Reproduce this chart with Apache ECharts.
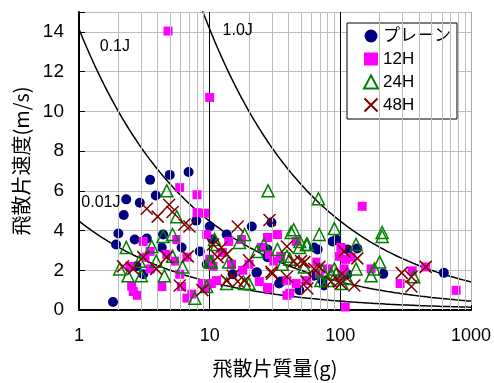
<!DOCTYPE html>
<html>
<head>
<meta charset="utf-8">
<script src="https://cdn.jsdelivr.net/npm/echarts@6/dist/echarts.min.js"></script>
<style>
  html, body { margin: 0; padding: 0; background: #fff; }
  #chart { width: 494px; height: 383px; }
</style>
</head>
<body>
<div id="chart"></div>
<script>
// Fragment mass (g) vs. fragment velocity (m/s), by exposure condition
const seriesNames = ['プレーン', '12H', '24H', '48H'];

const plainPoints = [
  [3.5, 6.55], [4.95, 6.8], [6.9, 6.95], [2.3, 5.57], [3.87, 5.76], [2.92, 5.4],
  [2.2, 4.78], [2.0, 3.85], [1.92, 3.3], [1.82, 0.4], [2.67, 3.55], [3.3, 3.6],
  [4.4, 3.8], [10, 4.2], [13.5, 3.8], [7.9, 4.5], [21, 4.2], [29.7, 4.4],
  [93, 3.55], [135, 3.1], [213, 1.82], [620, 1.87], [35, 1.43], [48.6, 0.99],
  [22.8, 1.87], [27.7, 3.05], [67, 3.05], [113, 1.8], [73, 1.48], [10.5, 3.55],
  [6.1, 3.15], [8.4, 2.95], [9.5, 2.3], [23, 1.9], [15, 1.8], [3.1, 1.8],
  [2.77, 2.2], [4.3, 3.15], [63, 3.15], [87, 3.45], [113, 3.05], [34, 1.33],
  [75, 1.23], [63, 1.72], [27.7, 2.66]
];

const h12Points = [
  [4.8, 14.04], [10, 10.7], [5.9, 6.16], [8.0, 5.8], [8, 4.9], [9.2, 4.87],
  [9.5, 3.8], [3.1, 3.45], [2.53, 1.2], [2.8, 0.74], [2.6, 0.93], [4.3, 1.18],
  [6.7, 0.6], [7.3, 0.8], [5.9, 1.8], [2.45, 2.2], [3.5, 2.95], [4.7, 2.8],
  [10.6, 2.2], [8.7, 1.33], [10.3, 1.33], [14, 3.45], [147, 5.22], [27.7, 3.65],
  [33, 3.8], [17.5, 3.55], [28.7, 2.8], [35, 2.7], [98, 2.7], [110, 2.55],
  [27.7, 1.13], [39, 0.74], [55, 1.48], [109, 0.15], [287, 1.33], [355, 1.97],
  [450, 2.17], [770, 0.99], [172, 2.07], [69, 1.82], [80, 2.07], [20, 2.3],
  [46, 1.33], [103, 1.67], [6.7, 2.66], [10, 2.56], [12.5, 2.9], [14.7, 2.3],
  [17.9, 2.0], [25, 3.15], [9.2, 1.08], [11.3, 1.48], [6.1, 1.18], [24, 1.43],
  [46, 3.45], [101, 3.15], [31, 2.46], [39, 1.48], [28.7, 1.08], [41, 0.84],
  [66, 2.41], [107, 2.07], [121, 2.66], [3.5, 2.07], [3.2, 2.66], [5.4, 2.46],
  [5.6, 3.55]
];

const h24Points = [
  [4.7, 6.0], [28, 6.0], [68, 5.6], [209, 3.9], [209, 3.7], [90, 4.1],
  [132, 3.3], [42, 3.9], [69, 3.8], [55, 3.3], [49, 3.45], [18.5, 3.8],
  [26, 3.3], [200, 2.41], [182, 2.07], [172, 1.72], [90, 2.07], [85, 1.82],
  [103, 1.33], [71, 1.48], [365, 1.67], [18.5, 1.33], [53, 2.17], [41, 2.56],
  [36, 2.3], [5.6, 4.7], [5.2, 3.8], [4.4, 3.7], [2.3, 3.15], [3.6, 3.2],
  [5.2, 2.7], [3.9, 2.46], [2.9, 2.46], [2.05, 2.07], [2.37, 1.72], [3.0, 1.72],
  [4.5, 1.72], [6.2, 2.17], [7.7, 0.59], [9.5, 1.18], [10.3, 2.41], [11.3, 3.3],
  [16.9, 3.4], [14, 2.41], [13.5, 1.33], [10.9, 3.55], [10, 2.46], [23, 2.95],
  [20, 1.33], [44, 4.04], [56, 3.3], [39, 2.7], [73, 1.97], [93, 1.82],
  [80, 1.48], [113, 1.58], [33, 3.05], [48.6, 3.15], [132, 2.07]
];

const h48Points = [
  [3.3, 5.1], [4.0, 4.7], [4.9, 5.3], [5.2, 4.93], [6.4, 4.3], [7, 4.2],
  [2.17, 2.2], [2.6, 2.07], [3.1, 2.66], [3.9, 2.07], [4.7, 2.66], [5.9, 1.23],
  [6.8, 2.7], [8.8, 1.0], [10.6, 3.3], [16.4, 4.2], [13.5, 2.8], [15, 1.72],
  [18.5, 1.48], [28.7, 4.53], [39, 3.2], [20, 2.5], [30, 1.82], [55, 1.43],
  [85, 1.43], [98, 1.43], [135, 2.6], [128, 1.23], [295, 1.87], [350, 1.18],
  [350, 1.67], [450, 2.17], [53, 2.41], [44, 2.46], [69, 2.17], [103, 1.82],
  [39, 1.67], [12.3, 3.15], [13.5, 1.48], [16.4, 1.43], [11.5, 2.66], [50, 2.46],
  [29.7, 1.92], [63, 2.07], [101, 1.33], [56, 1.08], [107, 2.95]
];

// Constant kinetic-energy curves: v = sqrt(2E / m), m in kg
const energyLevels = [0.01, 0.1, 1.0];
const energyLabels = ['0.01J', '0.1J', '1.0J'];
const energyLabelAt = [[1.47, 5.42], [1.88, 13.25], [16.4, 14.04]];

const xTickMinor = [2, 3, 4, 5, 6, 7, 8, 9, 20, 30, 40, 50, 60, 70, 80, 90,
                    200, 300, 400, 500, 600, 700, 800, 900];

const numFont = "'Liberation Sans', 'Noto Sans CJK JP', sans-serif";
const jpFont = "'Noto Sans CJK JP', 'Liberation Sans', sans-serif";

function energyCurve(E) {
  const pts = [];
  const steps = 300;
  for (let i = 0; i <= steps; i++) {
    const m = Math.pow(10, 3 * i / steps);
    pts.push([m, Math.sqrt(2 * E / (m / 1000))]);
  }
  return pts;
}

const chart = echarts.init(document.getElementById('chart'), null, { renderer: 'canvas' });

const series = [];

// minor vertical grid lines of the log axis
series.push({
  type: 'line',
  data: [],
  silent: true,
  z: 1,
  markLine: {
    silent: true,
    symbol: 'none',
    label: { show: false },
    lineStyle: { color: '#bdbdbd', type: 'solid', width: 1 },
    data: xTickMinor.map(v => ({ xAxis: v }))
  }
});

energyLevels.forEach((E, i) => {
  series.push({
    type: 'line',
    data: energyCurve(E),
    showSymbol: false,
    silent: true,
    z: 2,
    clip: true,
    lineStyle: { color: '#000', width: 1.5 },
    markPoint: {
      symbol: 'circle',
      symbolSize: 0,
      silent: true,
      label: {
        show: true,
        position: 'inside',
        formatter: energyLabels[i],
        color: '#000',
        fontSize: 16,
        fontFamily: numFont
      },
      data: [{ coord: energyLabelAt[i] }]
    }
  });
});

series.push({
  name: seriesNames[0],
  type: 'scatter',
  data: plainPoints,
  symbol: 'circle',
  symbolSize: 10,
  z: 3,
  itemStyle: { color: '#000080', opacity: 1 }
});
series.push({
  name: seriesNames[1],
  type: 'scatter',
  data: h12Points,
  symbol: 'rect',
  symbolSize: 9,
  z: 4,
  itemStyle: { color: '#ff00ff', opacity: 1 }
});
series.push({
  name: seriesNames[2],
  type: 'scatter',
  data: h24Points,
  symbol: 'triangle',
  symbolSize: 12,
  z: 5,
  itemStyle: { color: 'rgba(255,255,255,0)', borderColor: '#008000', borderWidth: 1.5, opacity: 1 }
});
series.push({
  name: seriesNames[3],
  type: 'scatter',
  data: h48Points,
  symbol: 'path://M0,0L10,10M10,0L0,10',
  symbolSize: 12,
  z: 6,
  itemStyle: { color: 'rgba(0,0,0,0)', borderColor: '#800000', borderWidth: 1.5, opacity: 1 }
});

chart.setOption({
  animation: false,
  backgroundColor: '#fff',
  grid: { left: 79, right: 22, top: 12, bottom: 66, containLabel: false },
  legend: {
    data: seriesNames,
    orient: 'vertical',
    left: 347,
    top: 23,
    padding: [3, 6, 4, 16],
    itemGap: 3,
    itemWidth: 14,
    itemHeight: 13,
    itemTextGap: 17,
    backgroundColor: '#fff',
    borderColor: '#000',
    borderWidth: 1,
    borderRadius: 0,
    selectedMode: false,
    textStyle: { fontSize: 17, color: '#000', fontFamily: numFont, lineHeight: 20 }
  },
  xAxis: {
    type: 'log',
    logBase: 10,
    min: 1,
    max: 1000,
    name: '飛散片質量(g)',
    nameLocation: 'middle',
    nameGap: 48,
    nameTextStyle: { fontSize: 20, color: '#000', fontFamily: jpFont },
    axisLine: { lineStyle: { color: '#000', width: 2 } },
    axisTick: { inside: true, length: 5, lineStyle: { color: '#000' } },
    axisLabel: {
      fontSize: 18, color: '#000', margin: 17, fontFamily: numFont,
      formatter: v => String(Math.round(v))
    },
    splitLine: { show: true, lineStyle: { color: ['#000', '#000', '#000', '#a8a8a8'], width: 1 } }
  },
  yAxis: {
    type: 'value',
    min: 0,
    max: 15,
    interval: 2,
    name: '飛散片速度(m/s)',
    nameLocation: 'middle',
    nameGap: 48,
    nameRotate: 90,
    nameTextStyle: { fontSize: 20, color: '#000', fontFamily: jpFont },
    axisLine: { show: true, lineStyle: { color: '#000', width: 2 } },
    axisTick: { show: true, inside: true, length: 6, lineStyle: { color: '#000' } },
    axisLabel: {
      fontSize: 19, color: '#000', margin: 15, fontFamily: numFont,
      padding: [6, 0, 0, 0],
      formatter: v => (v > 14 ? '' : String(v))
    },
    splitLine: { show: true, lineStyle: { color: '#bdbdbd', width: 1 } }
  },
  series: series
});
</script>
</body>
</html>
